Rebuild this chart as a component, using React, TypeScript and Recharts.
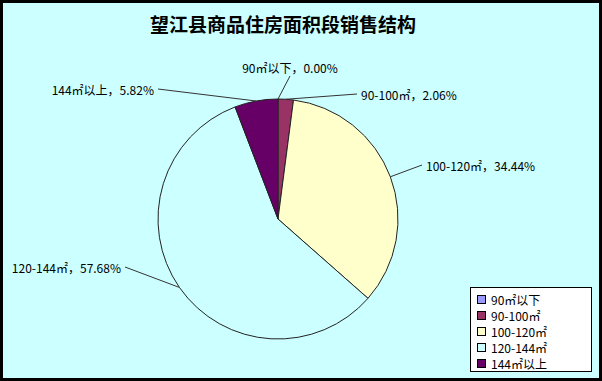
import { PieChart, Pie, Cell, Legend } from "recharts";

const categories = ["90㎡以下", "90-100㎡", "100-120㎡", "120-144㎡", "144㎡以上"];
const shares = [0.0, 2.06, 34.44, 57.68, 5.82];
const sliceColors = ["#9999FF", "#993366", "#FFFFCC", "#CCFFFF", "#660066"];

// where each label's leader line ends, relative to the pie centre
const labelAnchors = [
  { dx: 12, dy: -143, anchor: "middle" },
  { dx: 79, dy: -125, anchor: "start" },
  { dx: 144, dy: -54, anchor: "start" },
  { dx: -153, dy: 48, anchor: "end" },
  { dx: -120, dy: -130, anchor: "end" },
];

const data = categories.map((name, i) => ({ name, value: shares[i] }));

const FONT = "'Noto Sans CJK SC', 'DejaVu Sans', sans-serif";

function renderLabel(props: any) {
  const { cx, cy, midAngle, outerRadius, index } = props;
  const rad = Math.PI / 180;
  const sx = cx + outerRadius * Math.cos(-midAngle * rad);
  const sy = cy + outerRadius * Math.sin(-midAngle * rad);
  const a = labelAnchors[index];
  const ex = cx + a.dx;
  const ey = cy + a.dy;
  const text = `${categories[index]}，${shares[index].toFixed(2)}%`;
  const gap = a.anchor === "start" ? 4 : a.anchor === "end" ? -4 : 0;
  const ty = a.anchor === "middle" ? ey - 9 : ey;
  return (
    <g key={`lbl-${index}`}>
      <line x1={sx} y1={sy} x2={ex} y2={ey} stroke="#333" strokeWidth={1} />
      <text
        x={ex + gap}
        y={ty}
        textAnchor={a.anchor}
        dominantBaseline="central"
        fontSize={12}
        fontFamily={FONT}
        fill="#000"
      >
        {text}
      </text>
    </g>
  );
}

function LegendBox() {
  return (
    <div
      style={{
        background: "#fff",
        border: "1px solid #000",
        width: 122,
        height: 85,
        boxSizing: "border-box",
        padding: "3px 0 0 6px",
        fontFamily: FONT,
        fontSize: 12,
        color: "#000",
      }}
    >
      {categories.map((c, i) => (
        <div key={c} style={{ display: "flex", alignItems: "center", height: 16 }}>
          <span
            style={{
              display: "inline-block",
              width: 7,
              height: 7,
              background: sliceColors[i],
              border: "1px solid #000",
              marginRight: 5,
            }}
          />
          {c}
        </div>
      ))}
    </div>
  );
}

export default function App() {
  return (
    <div
      style={{
        position: "fixed",
        left: 0,
        top: 0,
        width: 602,
        height: 381,
        background: "#000",
      }}
    >
      <div
        style={{
          position: "absolute",
          left: 3,
          top: 3,
          width: 596,
          height: 375,
          background: "#CCFFFF",
        }}
      >
        <div
          style={{
            position: "absolute",
            left: 0,
            top: 7,
            width: 560,
            textAlign: "center",
            fontFamily: FONT,
            fontWeight: "bold",
            fontSize: 19,
            color: "#000",
          }}
        >
          望江县商品住房面积段销售结构
        </div>
        <PieChart width={596} height={375} style={{ position: "absolute", left: 0, top: 0 }}>
          <Pie
            data={data}
            dataKey="value"
            nameKey="name"
            cx={270}
            cy={211}
            outerRadius={120}
            startAngle={90}
            endAngle={-270}
            stroke="#222"
            strokeWidth={1}
            label={renderLabel}
            labelLine={false}
            isAnimationActive={false}
          >
            {data.map((d, i) => (
              <Cell key={d.name} fill={sliceColors[i]} />
            ))}
          </Pie>
          <Legend
            content={<LegendBox />}
            wrapperStyle={{ position: "absolute", left: 467, top: 284, width: 122, height: 85 }}
          />
        </PieChart>
      </div>
    </div>
  );
}
